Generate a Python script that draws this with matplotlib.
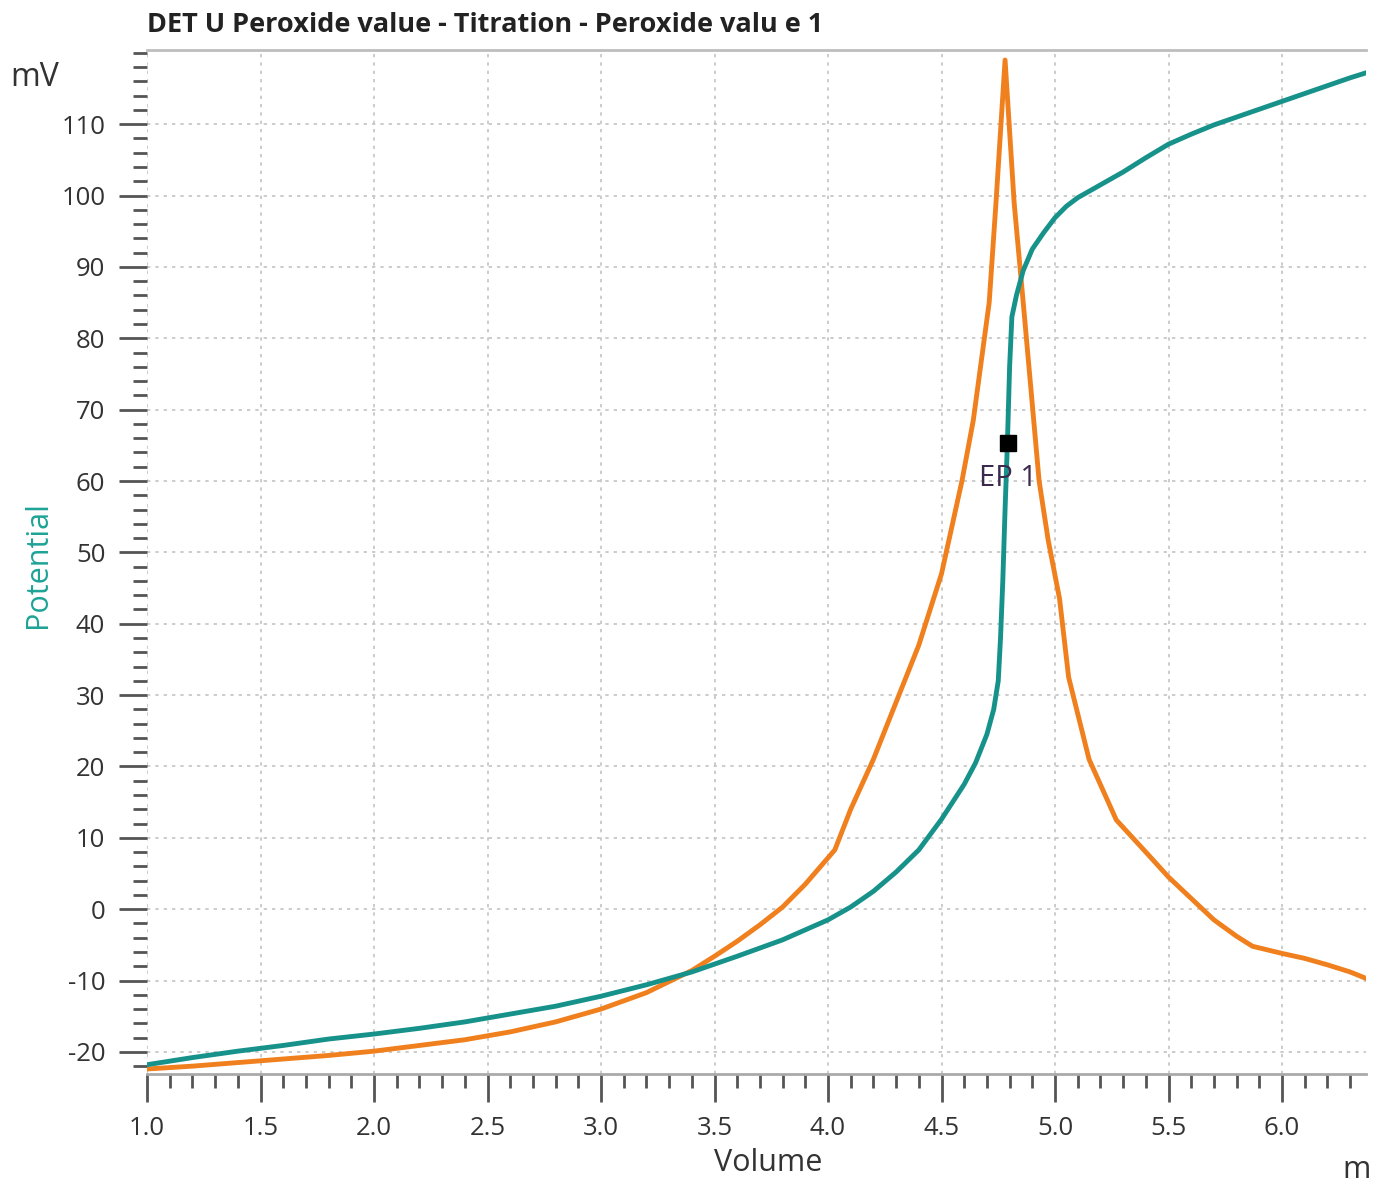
import numpy as np
import matplotlib.pyplot as plt
from matplotlib.ticker import MultipleLocator, FixedLocator

# potential curve (teal)
vol_u = [1.0, 1.2, 1.4, 1.6, 1.8, 2.0, 2.2, 2.4, 2.6, 2.8, 3.0, 3.2, 3.4, 3.6, 3.8,
         4.0, 4.1, 4.2, 4.3, 4.4, 4.5, 4.6, 4.65, 4.7, 4.73, 4.75, 4.76, 4.77, 4.78,
         4.79, 4.80, 4.81, 4.83, 4.86, 4.9, 4.95, 5.0, 5.05, 5.1, 5.2, 5.3, 5.4, 5.5,
         5.6, 5.7, 5.8, 5.9, 6.0, 6.1, 6.2, 6.3, 6.37]
pot = [-21.8, -20.8, -19.9, -19.1, -18.2, -17.5, -16.7, -15.8, -14.7, -13.6, -12.2,
       -10.6, -8.8, -6.6, -4.3, -1.5, 0.3, 2.5, 5.2, 8.3, 12.6, 17.5, 20.5, 24.5, 28,
       32, 38, 46, 56, 65, 76, 83, 86, 89.5, 92.5, 94.8, 96.9, 98.5, 99.7, 101.5,
       103.3, 105.3, 107.2, 108.6, 109.9, 111.0, 112.1, 113.2, 114.3, 115.4, 116.5, 117.2]

# ERC curve (orange)
vol_erc = [1.0, 1.2, 1.4, 1.6, 1.8, 2.0, 2.2, 2.4, 2.6, 2.8, 3.0, 3.2, 3.4, 3.5, 3.6,
           3.7, 3.8, 3.9, 4.03, 4.1, 4.2, 4.3, 4.4, 4.5, 4.59, 4.64, 4.71, 4.74, 4.78,
           4.82, 4.86, 4.93, 4.97, 5.02, 5.06, 5.15, 5.27, 5.4, 5.5, 5.6, 5.7, 5.8,
           5.87, 6.0, 6.1, 6.2, 6.3, 6.37]
erc = [-22.4, -22.0, -21.5, -21.0, -20.5, -19.9, -19.1, -18.3, -17.2, -15.8, -14.0,
       -11.7, -8.6, -6.6, -4.5, -2.2, 0.3, 3.5, 8.3, 14, 21, 29, 37, 47, 60, 68.5,
       85, 99, 119, 99, 85, 60, 51.7, 43.5, 32.5, 21, 12.5, 8, 4.5, 1.5, -1.5, -3.8,
       -5.2, -6.2, -6.9, -7.8, -8.8, -9.7]

ep_vol, ep_pot = 4.795, 65.3

y_major = list(range(-20, 111, 10))

teal = '#17928a'
orange = '#f0801e'
txt = '#333333'

plt.rcParams['font.family'] = ['Open Sans', 'DejaVu Sans']
plt.rcParams['axes.unicode_minus'] = False

fig = plt.figure(figsize=(13.83, 11.83), dpi=100)
ax = fig.add_axes([147/1383, 1-1074/1183, (1366-147)/1383, (1074-50)/1183])

ax.plot(vol_u, pot, color=teal, lw=3.5, zorder=3)
ax.plot(vol_erc, erc, color=orange, lw=3.5, zorder=2)
ax.plot([ep_vol], [ep_pot], 's', color='black', ms=12, zorder=4)
ax.text(ep_vol, 60.4, 'EP 1', color='#3b2a4d', fontsize=21, ha='center', va='center', zorder=5)

ax.set_xlim(1.0, 6.37)
ax.set_ylim(-23.1, 120.4)
ax.xaxis.set_major_locator(MultipleLocator(0.5))
ax.xaxis.set_minor_locator(MultipleLocator(0.1))
ax.yaxis.set_major_locator(FixedLocator(y_major))
ax.yaxis.set_minor_locator(MultipleLocator(2))
ax.xaxis.set_major_formatter(plt.FuncFormatter(lambda v, p: f'{v:.1f}'))

ax.grid(True, which='major', color='#c4c4c4', lw=1.2, ls=(0, (2, 3)))
ax.set_axisbelow(True)

ax.tick_params(which='major', length=20, width=2, color='#555555', labelsize=18.5,
               labelcolor=txt, pad=10)
ax.tick_params(which='minor', length=10, width=2, color='#555555')

for s in ['left', 'right']:
    ax.spines[s].set_visible(False)
ax.spines['top'].set_color('#bdbdbd')
ax.spines['top'].set_linewidth(2)
ax.spines['bottom'].set_color('#aaaaaa')
ax.spines['bottom'].set_linewidth(2)

fig.text(147/1383, 1-25/1183, 'DET U Peroxide value - Titration - Peroxide valu e 1',
         fontsize=19.5, fontweight='bold', color='#222222', ha='left', va='center')
fig.text(10/1383, 1-77/1183, 'mV', fontsize=23, color=txt, ha='left', va='center')
fig.text(38/1383, 1-565/1183, 'Potential', fontsize=22, color='#1ea396', rotation=90,
         ha='center', va='center')
fig.text(768/1383, 1-1163/1183, 'Volume', fontsize=22, color=txt, ha='center', va='center')
fig.text(1342/1383, 1-1170/1183, 'm', fontsize=22, color=txt, ha='left', va='center')

fig.savefig('out.png', dpi=100)
